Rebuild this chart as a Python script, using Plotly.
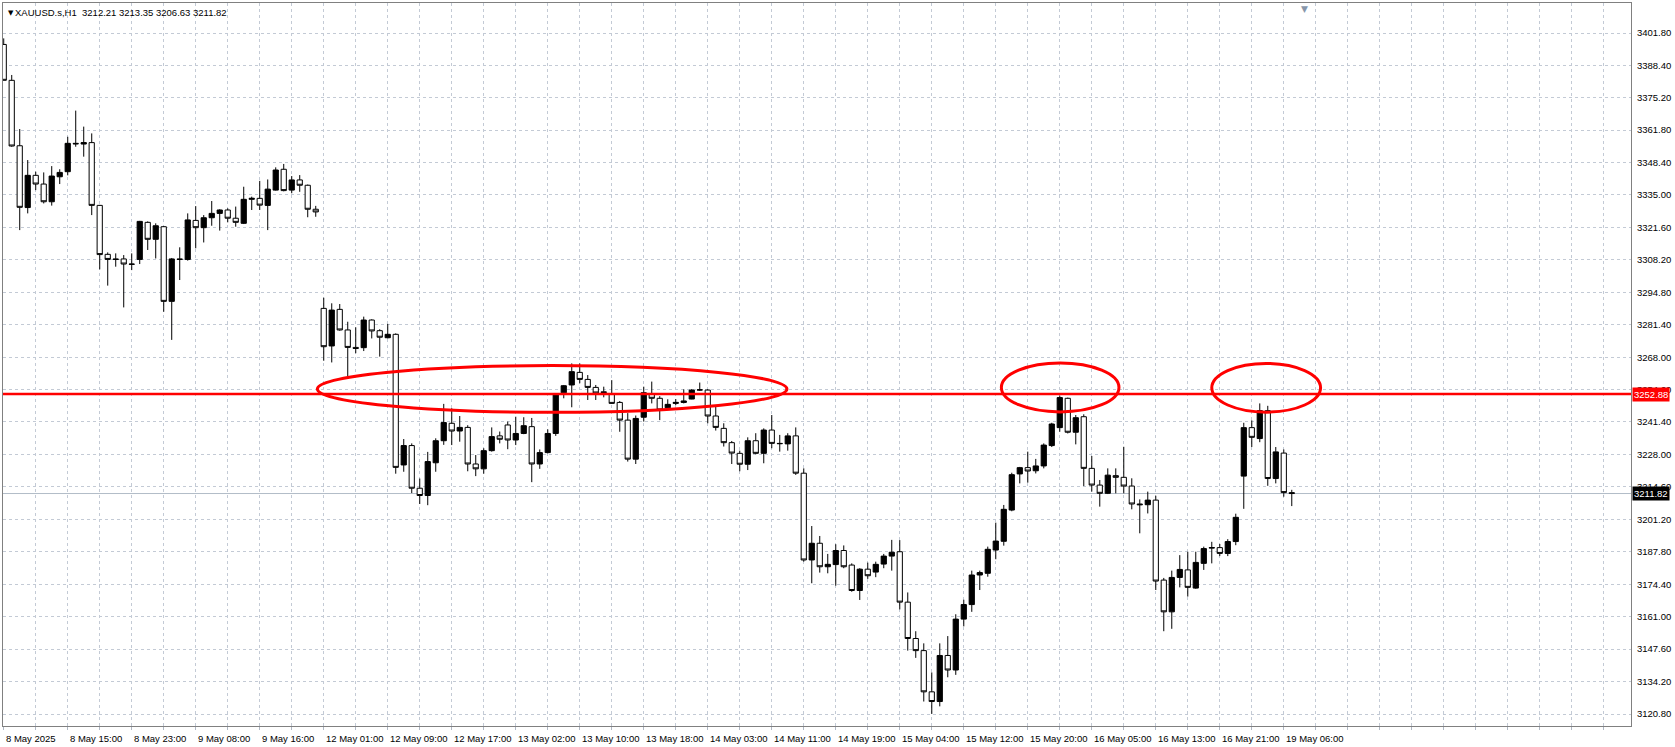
import plotly.graph_objects as go

# ---------------- data ----------------
opens = [3397.1, 3382.3, 3355.3, 3329.8, 3343.1, 3339.5, 3332.2, 3342.5, 3344.6, 3356.3,
         3356.0, 3356.6, 3330.7, 3310.5, 3308.6, 3308.6, 3306.5, 3308.4, 3323.7, 3316.7,
         3321.9, 3291.1, 3308.6, 3308.4, 3324.5, 3321.5, 3325.6, 3327.4, 3328.8, 3325.4,
         3323.3, 3333.2, 3333.6, 3330.7, 3337.0, 3345.6, 3337.0, 3341.2, 3339.0, 3329.1,
         3288.2, 3272.7, 3287.8, 3279.3, 3272.1, 3272.0, 3283.4, 3279.0, 3276.1, 3277.5,
         3223.6, 3231.6, 3214.0, 3211.0, 3224.5, 3233.6, 3240.8, 3237.6, 3239.1, 3224.0,
         3222.0, 3229.5, 3235.6, 3240.1, 3233.9, 3236.6, 3239.4, 3224.0, 3228.7, 3236.6,
         3253.4, 3256.6, 3261.8, 3258.9, 3255.6, 3253.8, 3252.7, 3249.4, 3242.1, 3226.0,
         3243.3, 3252.7, 3251.1, 3247.2, 3249.0, 3249.4, 3250.8, 3254.5, 3254.5, 3243.8,
         3238.7, 3232.8, 3228.4, 3223.9, 3233.6, 3228.4, 3238.0, 3232.5, 3232.3, 3235.6,
         3220.2, 3184.4, 3191.3, 3181.6, 3182.5, 3188.3, 3182.3, 3171.8, 3180.6, 3179.4,
         3182.7, 3186.0, 3187.8, 3167.0, 3152.0, 3147.0, 3130.0, 3126.0, 3145.0, 3139.0,
         3160.0, 3166.0, 3178.2, 3178.9, 3188.5, 3192.1, 3205.0, 3219.9, 3222.5, 3221.2,
         3223.2, 3231.6, 3239.0, 3251.1, 3237.1, 3243.5, 3222.2, 3215.3, 3211.9, 3219.2,
         3218.5, 3214.9, 3207.5, 3207.2, 3209.1, 3176.1, 3163.0, 3177.2, 3180.3, 3172.8,
         3183.0, 3189.3, 3189.5, 3187.1, 3192.0, 3219.0, 3239.0, 3234.5, 3246.0, 3218.0,
         3228.5, 3212.21]
highs = [3399.6, 3384.5, 3362.2, 3349.4, 3344.6, 3344.3, 3346.9, 3345.6, 3359.0, 3369.8,
         3363.2, 3360.4, 3330.9, 3311.3, 3310.9, 3310.2, 3310.9, 3324.3, 3324.1, 3323.3,
         3322.2, 3309.0, 3313.4, 3327.4, 3330.4, 3326.7, 3332.5, 3329.1, 3329.5, 3330.2,
         3338.4, 3334.3, 3340.8, 3341.4, 3346.4, 3347.8, 3342.8, 3343.2, 3339.3, 3330.5,
         3292.6, 3290.3, 3290.0, 3282.7, 3280.4, 3284.8, 3283.7, 3279.6, 3281.8, 3277.9,
         3234.3, 3232.5, 3218.0, 3229.0, 3234.6, 3248.8, 3247.0, 3243.8, 3240.0, 3227.7,
         3230.5, 3239.1, 3237.4, 3241.5, 3243.5, 3243.3, 3243.0, 3230.0, 3238.3, 3253.0,
         3256.6, 3265.5, 3265.5, 3260.7, 3256.6, 3255.9, 3258.6, 3250.0, 3245.0, 3244.0,
         3255.9, 3258.0, 3252.0, 3250.7, 3250.8, 3254.8, 3254.9, 3257.6, 3254.9, 3248.3,
         3240.8, 3233.5, 3229.5, 3235.0, 3236.7, 3238.7, 3244.2, 3236.0, 3236.7, 3239.1,
         3222.2, 3198.4, 3194.3, 3186.9, 3190.9, 3190.4, 3183.0, 3181.0, 3183.3, 3183.7,
         3186.9, 3192.7, 3192.6, 3171.0, 3155.0, 3150.0, 3138.0, 3150.0, 3153.0, 3162.0,
         3168.0, 3180.0, 3180.0, 3189.9, 3199.8, 3207.1, 3220.4, 3222.8, 3229.1, 3226.1,
         3232.5, 3241.0, 3252.2, 3251.4, 3244.2, 3244.5, 3227.3, 3217.4, 3222.2, 3222.2,
         3231.1, 3218.1, 3209.4, 3212.6, 3210.9, 3177.0, 3180.0, 3186.4, 3187.8, 3187.8,
         3189.9, 3191.9, 3191.0, 3193.0, 3203.5, 3241.0, 3242.0, 3249.0, 3248.0, 3231.0,
         3230.0, 3213.35]
lows = [3382.3, 3354.9, 3320.5, 3327.4, 3337.0, 3331.5, 3330.6, 3339.5, 3343.1, 3354.9,
        3350.8, 3326.7, 3304.3, 3297.6, 3305.4, 3288.6, 3304.0, 3306.5, 3312.3, 3308.8,
        3286.8, 3275.2, 3299.9, 3307.9, 3313.0, 3315.4, 3322.3, 3320.3, 3323.7, 3321.9,
        3323.0, 3328.8, 3328.8, 3320.5, 3336.8, 3336.5, 3335.7, 3336.3, 3325.8, 3326.0,
        3266.6, 3265.9, 3279.0, 3259.3, 3269.7, 3270.6, 3275.8, 3268.3, 3275.8, 3220.0,
        3220.8, 3212.0, 3207.5, 3207.0, 3220.8, 3231.9, 3231.8, 3233.2, 3221.0, 3219.0,
        3220.0, 3229.1, 3232.5, 3230.1, 3231.8, 3236.3, 3216.5, 3222.0, 3228.4, 3235.6,
        3251.1, 3247.4, 3257.3, 3250.4, 3250.4, 3251.5, 3248.8, 3237.3, 3225.0, 3224.0,
        3241.5, 3249.0, 3242.1, 3246.3, 3248.3, 3249.0, 3250.7, 3254.2, 3240.8, 3237.8,
        3231.2, 3224.0, 3221.0, 3221.5, 3228.0, 3224.3, 3230.5, 3229.1, 3229.5, 3219.5,
        3183.7, 3174.8, 3179.2, 3178.9, 3173.8, 3181.0, 3171.3, 3167.9, 3176.6, 3177.3,
        3181.0, 3180.0, 3164.0, 3147.0, 3144.0, 3126.0, 3120.9, 3124.0, 3136.0, 3137.0,
        3157.0, 3163.0, 3172.0, 3177.5, 3184.7, 3190.3, 3204.5, 3216.0, 3216.3, 3220.1,
        3222.2, 3231.0, 3237.3, 3236.6, 3232.1, 3214.9, 3212.6, 3206.4, 3211.6, 3211.9,
        3211.9, 3205.3, 3195.4, 3203.6, 3172.0, 3155.0, 3156.0, 3173.1, 3169.3, 3172.5,
        3180.3, 3183.0, 3186.0, 3186.0, 3190.5, 3205.5, 3231.0, 3233.0, 3215.0, 3216.0,
        3210.5, 3206.63]
closes = [3382.3, 3355.2, 3329.9, 3343.1, 3339.5, 3332.2, 3342.8, 3344.3, 3356.3, 3356.1,
          3356.6, 3330.7, 3310.4, 3308.4, 3308.4, 3306.5, 3306.4, 3324.1, 3316.7, 3322.3,
          3291.1, 3308.6, 3308.4, 3324.7, 3321.5, 3325.6, 3327.4, 3328.8, 3325.4, 3323.7,
          3333.2, 3333.6, 3330.8, 3337.4, 3345.3, 3336.8, 3341.2, 3339.0, 3329.1, 3328.0,
          3272.4, 3287.5, 3279.3, 3272.1, 3271.7, 3283.4, 3278.9, 3276.3, 3277.5, 3222.6,
          3231.6, 3214.0, 3211.0, 3225.0, 3233.6, 3241.1, 3237.6, 3239.1, 3224.0, 3222.0,
          3229.5, 3235.3, 3234.2, 3233.9, 3236.6, 3239.8, 3224.0, 3228.7, 3236.6, 3252.5,
          3256.3, 3262.1, 3258.9, 3255.6, 3253.3, 3253.5, 3249.0, 3242.1, 3226.0, 3242.8,
          3253.4, 3251.1, 3246.3, 3248.6, 3249.4, 3250.0, 3254.5, 3254.6, 3243.8, 3239.1,
          3232.8, 3228.5, 3223.9, 3233.6, 3228.4, 3238.0, 3232.5, 3232.4, 3235.6, 3220.2,
          3184.4, 3191.3, 3181.6, 3182.6, 3188.3, 3181.6, 3171.8, 3180.6, 3177.9, 3182.6,
          3186.0, 3187.6, 3167.0, 3152.0, 3147.0, 3130.0, 3126.0, 3145.0, 3139.0, 3160.0,
          3166.0, 3178.2, 3179.2, 3188.8, 3192.2, 3205.3, 3219.6, 3222.5, 3221.1, 3223.2,
          3231.8, 3240.5, 3251.4, 3237.1, 3243.1, 3222.2, 3215.3, 3211.9, 3219.4, 3218.5,
          3214.9, 3207.5, 3207.2, 3209.1, 3175.7, 3163.0, 3177.2, 3180.5, 3173.1, 3183.4,
          3189.1, 3189.5, 3187.1, 3192.0, 3202.0, 3239.0, 3235.0, 3246.0, 3218.0, 3229.0,
          3212.2, 3211.82]

time_labels = ["8 May 2025", "8 May 15:00", "8 May 23:00", "9 May 08:00", "9 May 16:00",
               "12 May 01:00", "12 May 09:00", "12 May 17:00", "13 May 02:00", "13 May 10:00",
               "13 May 18:00", "14 May 03:00", "14 May 11:00", "14 May 19:00", "15 May 04:00",
               "15 May 12:00", "15 May 20:00", "16 May 05:00", "16 May 13:00", "16 May 21:00",
               "19 May 06:00"]
time_label_bars = [0, 8, 16, 24, 32, 40, 48, 56, 64, 72, 80, 88, 96, 104, 112,
                   120, 128, 136, 144, 152, 160]

price_ticks = [3401.80, 3388.40, 3375.20, 3361.80, 3348.40, 3335.00, 3321.60, 3308.20,
               3294.80, 3281.40, 3268.00, 3254.60, 3241.40, 3228.00, 3214.60, 3201.20,
               3187.80, 3174.40, 3161.00, 3147.60, 3134.20, 3120.80]
price_tick_text = ["3401.80", "3388.40", "3375.20", "3361.80", "3348.40", "3335.00",
                   "3321.60", "3308.20", "3294.80", "3281.40", "3268.00", "3254.60",
                   "3241.40", "3228.00", "3214.60", "3201.20", "3187.80", "3174.40",
                   "3161.00", "3147.60", "3134.20", "3120.80"]

symbol_title = "XAUUSD.s,H1  3212.21 3213.35 3206.63 3211.82"
resistance_level = 3252.88
resistance_text = "3252.88"
last_price = 3211.82
last_price_text = "3211.82"

# ---------------- figure ----------------
bars = list(range(len(opens)))
FONT = "Liberation Sans"
GRID = "#c3cad5"

fig = go.Figure(go.Candlestick(
    x=bars, open=opens, high=highs, low=lows, close=closes,
    increasing=dict(line=dict(color="#000000", width=1), fillcolor="#000000"),
    decreasing=dict(line=dict(color="#000000", width=1), fillcolor="#ffffff"),
    whiskerwidth=0, hoverinfo="skip", showlegend=False,
))

shapes = [
    # current price line
    dict(type="line", xref="paper", x0=0, x1=1, yref="y", y0=last_price, y1=last_price,
         line=dict(color="#b2bcc8", width=1), layer="below"),
    # resistance line
    dict(type="line", xref="paper", x0=0, x1=1, yref="y", y0=resistance_level, y1=resistance_level,
         line=dict(color="#ff0000", width=2.5), layer="above"),
    # ellipses
    dict(type="circle", xref="x", yref="y", x0=39.2, x1=97.9, y0=3245.3, y1=3264.6,
         line=dict(color="#ff0000", width=3), layer="above"),
    dict(type="circle", xref="x", yref="y", x0=124.7, x1=139.4, y0=3245.5, y1=3265.7,
         line=dict(color="#ff0000", width=3), layer="above"),
    dict(type="circle", xref="x", yref="y", x0=151.0, x1=164.6, y0=3245.4, y1=3265.5,
         line=dict(color="#ff0000", width=3), layer="above"),
]

annotations = []
for lab, b in zip(time_labels, time_label_bars):
    annotations.append(dict(x=b, xref="x", y=0, yref="paper", text=lab, showarrow=False,
                            xanchor="left", yanchor="top", xshift=0, yshift=-5,
                            font=dict(family=FONT, size=9.5, color="#000000")))
annotations += [
    dict(x=0, xref="paper", y=1, yref="paper", text="▼", showarrow=False,
         xanchor="left", yanchor="top", xshift=3, yshift=-4,
         font=dict(family="DejaVu Sans", size=7, color="#000000")),
    dict(x=0, xref="paper", y=1, yref="paper", text=symbol_title, showarrow=False,
         xanchor="left", yanchor="top", xshift=10, yshift=-2,
         font=dict(family=FONT, size=9.5, color="#000000")),
    dict(x=0.7995, xref="paper", y=1, yref="paper", text="▼", showarrow=False,
         xanchor="center", yanchor="top", yshift=1,
         font=dict(family="DejaVu Sans", size=9, color="#8796aa")),
    dict(x=1, xref="paper", y=resistance_level, yref="y", text=resistance_text, showarrow=False,
         xanchor="left", yanchor="middle", xshift=1, bgcolor="#ff0000", borderpad=1,
         font=dict(family=FONT, size=9.5, color="#ffffff")),
    dict(x=1, xref="paper", y=last_price, yref="y", text=last_price_text, showarrow=False,
         xanchor="left", yanchor="middle", xshift=1, bgcolor="#000000", borderpad=1,
         font=dict(family=FONT, size=9.5, color="#ffffff")),
]

fig.update_layout(
    width=1675, height=747,
    margin=dict(l=3, r=44, t=3, b=21),
    paper_bgcolor="#ffffff", plot_bgcolor="#ffffff",
    boxgap=0.35, boxgroupgap=0,
    showlegend=False,
    shapes=shapes, annotations=annotations,
    xaxis=dict(range=[-0.09, 203.4], tickmode="linear", tick0=0, dtick=4,
               showgrid=True, gridcolor=GRID, griddash="dot", gridwidth=1,
               showticklabels=False, ticks="outside", ticklen=3, tickcolor="#b0b8c4",
               showline=True, mirror=True, linecolor="#808080", linewidth=1,
               zeroline=False, rangeslider=dict(visible=False), fixedrange=True),
    yaxis=dict(side="right", range=[3115.9, 3414.2], tickmode="array",
               tickvals=price_ticks, ticktext=price_tick_text,
               showgrid=True, gridcolor=GRID, griddash="dot", gridwidth=1,
               ticks="", ticklabelstandoff=3,
               tickfont=dict(family=FONT, size=9.5, color="#000000"),
               showline=True, mirror=True, linecolor="#808080", linewidth=1,
               zeroline=False, fixedrange=True),
)

fig.write_html(
    "out.html",
    config={"displayModeBar": False},
    post_script="document.body.style.margin='0';document.body.style.padding='0';"
                "document.body.style.overflow='hidden';",
)
